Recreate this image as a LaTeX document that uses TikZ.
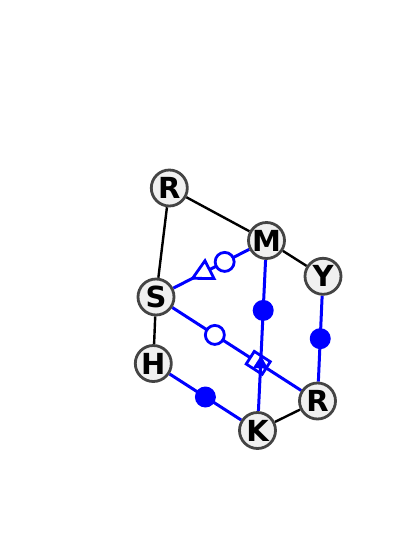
\documentclass[tikz,border=0pt]{standalone}
\usepackage{fontspec}
\setmainfont{DejaVu Sans}
\usetikzlibrary{calc}
\definecolor{nodefill}{HTML}{F0F0F0}
\definecolor{nodeline}{HTML}{444444}
\pgfdeclarelayer{bg}
\pgfsetlayers{bg,main}
\begin{document}
\begin{tikzpicture}[x=1pt,y=-1pt,
  vtx/.style={circle, draw=nodeline, fill=nodefill, line width=2.8pt, minimum size=36pt, inner sep=0pt, font=\fontsize{29}{29}\selectfont\bfseries},
  bedge/.style={black, line width=2.4pt},
  uedge/.style={blue, line width=3pt},
  fdot/.style={circle, fill=blue, minimum size=21pt, inner sep=0pt},
  odot/.style={circle, draw=blue, fill=white, line width=2.8pt, minimum size=19pt, inner sep=0pt},
  sqm/.style={rectangle, draw=blue, fill=white, line width=2.8pt, minimum width=19pt, minimum height=15pt, inner sep=0pt}]
\useasboundingbox (0,0) rectangle (400,542);
\node[vtx] (R1) at (169.3,188) {R};
\node[vtx] (M) at (266.5,240.5) {M};
\node[vtx] (Y) at (323,276.3) {Y};
\node[vtx] (S) at (156,297) {S};
\node[vtx] (H) at (153.3,363.5) {H};
\node[vtx] (R2) at (317.5,401) {R};
\node[vtx] (K) at (257.5,430.5) {K};
\begin{pgfonlayer}{bg}
\draw[bedge] (R1) -- (M);
\draw[bedge] (R1) -- (S);
\draw[bedge] (M) -- (Y);
\draw[bedge] (S) -- (H);
\draw[bedge] (K) -- (R2);
\draw[uedge] (H) -- (K);
\node[fdot] (d1) at ($(H)!0.5!(K)$) {};
\draw[uedge] (Y) -- (R2);
\node[fdot] (d2) at ($(Y)!0.5!(R2)$) {};
\draw[uedge] (M) -- (S);
\coordinate (t1tip) at ($(M)!83pt!(S)$);
\coordinate (t1base) at ($(M)!64pt!(S)$);
\draw[blue, line width=2.8pt, fill=white, line join=miter] (t1tip) -- ($(t1base)!10pt!90:(S)$) -- ($(t1base)!10pt!-90:(S)$) -- cycle;
\node[odot] (c1) at ($(M)!47pt!(S)$) {};
\draw[uedge] (S) -- (R2);
\node[odot] (c2) at ($(S)!70pt!(R2)$) {};
\path (S.center) -- (R2.center) node[sloped, pos=0.633, sqm] (sq) {};
\draw[uedge] (M) -- (K);
\node[fdot] (d3) at ($(M)!70pt!(K)$) {};
\coordinate (t2tip) at ($(M)!115pt!(K)$);
\coordinate (t2base) at ($(M)!128pt!(K)$);
\fill[blue] (t2tip) -- ($(t2base)!7.5pt!90:(K)$) -- ($(t2base)!7.5pt!-90:(K)$) -- cycle;
\end{pgfonlayer}
\end{tikzpicture}
\end{document}
